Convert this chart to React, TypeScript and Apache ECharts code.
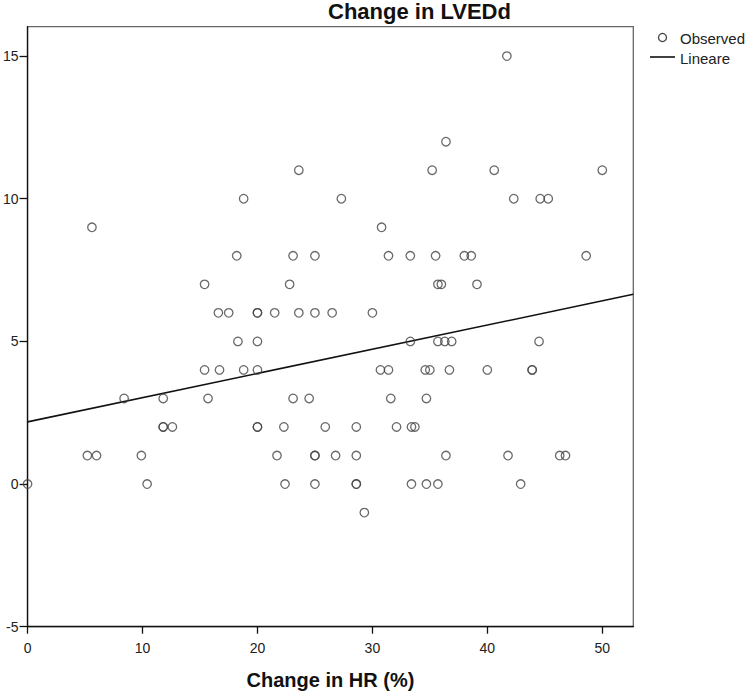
import React, { useEffect, useRef } from "react";
import * as echarts from "echarts";

// Observed points: Change in HR (%) paired with Change in LVEDd
const hrChange: number[] = [
  41.7,
  36.4,
  23.6, 35.2, 40.6, 50.0,
  18.8, 27.3, 42.3, 44.6, 45.3,
  5.6, 30.8,
  18.2, 23.1, 25.0, 31.4, 33.3, 35.5, 38.0, 38.6, 48.6,
  15.4, 22.8, 35.7, 36.0, 39.1,
  16.6, 17.5, 20.0, 20.0, 21.5, 23.6, 25.0, 26.5, 30.0,
  18.3, 20.0, 33.3, 35.7, 36.3, 36.9, 44.5,
  15.4, 16.7, 18.8, 20.0, 30.7, 31.4, 34.6, 35.0, 36.7, 40.0, 43.9, 43.9,
  8.4, 11.8, 15.7, 23.1, 24.5, 31.6, 34.7,
  11.8, 11.8, 12.6, 20.0, 20.0, 22.3, 25.9, 28.6, 32.1, 33.4, 33.7,
  5.2, 6.0, 9.9, 21.7, 25.0, 25.0, 26.8, 28.6, 36.4, 41.8, 46.3, 46.8,
  0.0, 10.4, 22.4, 25.0, 28.6, 28.6, 33.4, 34.7, 35.7, 42.9,
  29.3,
];

const lvedChange: number[] = [
  15,
  12,
  11, 11, 11, 11,
  10, 10, 10, 10, 10,
  9, 9,
  8, 8, 8, 8, 8, 8, 8, 8, 8,
  7, 7, 7, 7, 7,
  6, 6, 6, 6, 6, 6, 6, 6, 6,
  5, 5, 5, 5, 5, 5, 5,
  4, 4, 4, 4, 4, 4, 4, 4, 4, 4, 4, 4,
  3, 3, 3, 3, 3, 3, 3,
  2, 2, 2, 2, 2, 2, 2, 2, 2, 2, 2,
  1, 1, 1, 1, 1, 1, 1, 1, 1, 1, 1, 1,
  0, 0, 0, 0, 0, 0, 0, 0, 0, 0,
  -1,
];

// Linear fit ("Lineare") endpoints
const fitX: number[] = [0, 52.7];
const fitY: number[] = [2.18, 6.65];

// Axis ticks
const xTicks: number[] = [0, 10, 20, 30, 40, 50];
const yTicks: number[] = [-5, 0, 5, 10, 15];

// Legend labels
const legendLabels: string[] = ["Observed", "Lineare"];

const FONT = "'Liberation Sans', Arial, Helvetica, sans-serif";
const MARK = "#444";
const INK = "#111";

export default function App() {
  const ref = useRef<HTMLDivElement>(null);

  useEffect(() => {
    if (!ref.current) return;
    const chart = echarts.init(ref.current, undefined, { renderer: "svg" });

    const observed = hrChange.map((x, i) => [x, lvedChange[i]]);
    const fit = fitX.map((x, i) => [x, fitY[i]]);

    chart.setOption({
      animation: false,
      backgroundColor: "#ffffff",
      title: {
        text: "Change in LVEDd",
        left: 328,
        top: 0,
        padding: 0,
        textStyle: {
          fontFamily: FONT,
          fontSize: 22,
          fontWeight: "bold",
          color: INK,
        },
      },
      graphic: [
        {
          type: "circle",
          shape: { cx: 662.5, cy: 37.5, r: 4 },
          style: { fill: "none", stroke: MARK, lineWidth: 1.3 },
        },
        {
          type: "text",
          x: 680,
          y: 38,
          style: {
            text: legendLabels[0],
            fontFamily: FONT,
            fontSize: 15,
            fill: "#222",
            verticalAlign: "middle",
          },
        },
        {
          type: "line",
          shape: { x1: 650, y1: 57, x2: 675, y2: 57 },
          style: { stroke: INK, lineWidth: 1.6 },
        },
        {
          type: "text",
          x: 680,
          y: 58,
          style: {
            text: legendLabels[1],
            fontFamily: FONT,
            fontSize: 15,
            fill: "#222",
            verticalAlign: "middle",
          },
        },
      ],
      grid: {
        left: 27.3,
        top: 26.7,
        right: 113.7,
        bottom: 70.3,
        show: true,
        borderColor: "#666",
        borderWidth: 1.3,
        backgroundColor: "transparent",
      },
      xAxis: {
        type: "value",
        min: 0,
        max: 52.7,
        interval: 10,
        name: "Change in HR (%)",
        nameLocation: "middle",
        nameGap: 43,
        nameTextStyle: {
          fontFamily: FONT,
          fontSize: 20,
          fontWeight: "bold",
          color: INK,
        },
        splitLine: { show: false },
        axisLine: { show: true, onZero: false, lineStyle: { color: INK, width: 1.3 } },
        axisTick: {
          show: true,
          inside: false,
          length: 7,
          customValues: xTicks,
          lineStyle: { color: INK, width: 1.3 },
        },
        axisLabel: {
          customValues: xTicks,
          margin: 14,
          fontFamily: FONT,
          fontSize: 14,
          color: "#222",
        },
      },
      yAxis: {
        type: "value",
        min: -5,
        max: 16.03,
        interval: 5,
        splitLine: { show: false },
        axisLine: { show: true, onZero: false, lineStyle: { color: INK, width: 1.3 } },
        axisTick: {
          show: true,
          inside: false,
          length: 8,
          customValues: yTicks,
          lineStyle: { color: INK, width: 1.3 },
        },
        axisLabel: {
          customValues: yTicks,
          margin: 9,
          fontFamily: FONT,
          fontSize: 14,
          color: "#222",
        },
      },
      series: [
        {
          name: "Observed",
          type: "scatter",
          data: observed,
          symbol: "circle",
          symbolSize: 8.5,
          itemStyle: {
            color: "rgba(255,255,255,0)",
            borderColor: MARK,
            borderWidth: 1.3,
          },
          emphasis: { disabled: true },
          z: 3,
        },
        {
          name: "Lineare",
          type: "line",
          data: fit,
          symbol: "none",
          showSymbol: false,
          lineStyle: { color: INK, width: 1.6 },
          emphasis: { disabled: true },
          z: 2,
        },
      ],
    });

    return () => {
      chart.dispose();
    };
  }, []);

  return (
    <div
      ref={ref}
      style={{ position: "fixed", left: 0, top: 0, width: 747, height: 697 }}
    />
  );
}
